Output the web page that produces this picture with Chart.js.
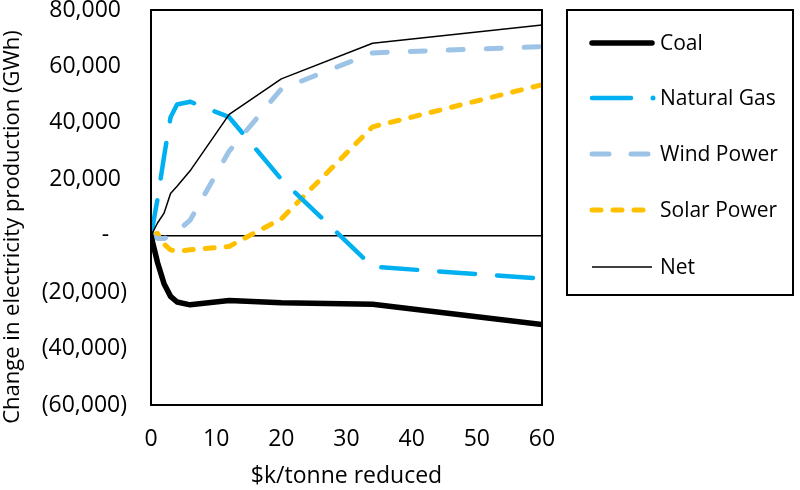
<!DOCTYPE html>
<html>
<head>
<meta charset="utf-8">
<script src="https://cdn.jsdelivr.net/npm/chart.js@4"></script>
<style>
  html, body { margin: 0; padding: 0; background: #fff; }
  #wrap { width: 800px; height: 490px; position: relative; }
</style>
</head>
<body>
<div id="wrap"><canvas id="c"></canvas></div>
<script>
// ---- data ----
const xValues = [0, 1, 2, 3, 4, 6, 12, 20, 34, 60];
const coal    = [0, -9500, -17000, -21500, -23500, -24500, -23000, -23800, -24300, -31500];
const natGas  = [0, 13000, 28000, 42000, 46500, 47500, 42000, 20000, -11000, -15200];
const wind    = [0, -1000, -1000, 0, 1500, 5500, 30000, 52000, 64800, 67000];
const solar   = [0, 800, -3000, -5000, -5500, -5000, -3800, 6000, 38600, 53500];
const net     = [0, 4500, 8000, 15000, 17500, 23000, 43000, 55600, 68200, 74700];
const seriesNames = ['Coal', 'Natural Gas', 'Wind Power', 'Solar Power', 'Net'];
const yTickValues = [80000, 60000, 40000, 20000, 0, -20000, -40000, -60000];
const xTickValues = [0, 10, 20, 30, 40, 50, 60];
const xTitle = '$k/tonne reduced';
const yTitle = 'Change in electricity production (GWh)';

const FONT = "'Open Sans', 'Noto Sans', sans-serif";
const pts = arr => arr.map((v, i) => ({ x: xValues[i], y: v }));

const styles = [
  { color: '#000000', width: 5.5, dash: [],       cap: 'round' },
  { color: '#00B0F0', width: 4.5, dash: [36, 22], cap: 'round' },
  { color: '#9DC3E6', width: 5,   dash: [15, 23], cap: 'round' },
  { color: '#FFC000', width: 5,   dash: [9, 12],  cap: 'round' },
  { color: '#000000', width: 1.5, dash: [],       cap: 'butt'  }
];
const seriesData = [coal, natGas, wind, solar, net];

const datasets = seriesData.map((d, i) => ({
  label: seriesNames[i],
  data: pts(d),
  borderColor: styles[i].color,
  borderWidth: styles[i].width,
  borderDash: styles[i].dash,
  borderCapStyle: styles[i].cap,
  borderJoinStyle: 'round',
  pointRadius: 0,
  pointHoverRadius: 0,
  fill: false,
  tension: 0
}));
datasets[4].order = 0; datasets[0].order = 1; datasets[1].order = 2; datasets[2].order = 3; datasets[3].order = 4;

function acct(v) {
  if (v === 0) return '-   ';
  const s = Math.abs(v).toLocaleString('en-US');
  return v < 0 ? '(' + s + ')' : s + ' ';
}

const decor = {
  id: 'decor',
  afterDraw(chart) {
    const { ctx, chartArea: a } = chart;
    ctx.save();
    ctx.strokeStyle = '#000';
    ctx.lineWidth = 2;
    ctx.strokeRect(a.left, a.top, a.right - a.left, a.bottom - a.top);

    // y title
    ctx.fillStyle = '#000';
    ctx.font = '22px ' + FONT;
    ctx.textAlign = 'center';
    ctx.textBaseline = 'middle';
    ctx.translate(13, 227);
    ctx.rotate(-Math.PI / 2);
    ctx.fillText(yTitle, 0, 0);
    ctx.setTransform(1, 0, 0, 1, 0, 0);

    // legend box
    const lx = 567, ly = 10, lw = 226, lh = 285;
    ctx.lineWidth = 2;
    ctx.strokeStyle = '#000';
    ctx.strokeRect(lx, ly, lw, lh);
    const rows = [43, 98, 154, 210, 267];
    ctx.textAlign = 'left';
    ctx.textBaseline = 'middle';
    ctx.font = '21px ' + FONT;
    seriesNames.forEach((name, i) => {
      const y = rows[i];
      const st = styles[i];
      ctx.strokeStyle = st.color;
      ctx.lineWidth = st.width;
      ctx.lineCap = st.cap;
      ctx.beginPath();
      if (i === 1) {
        ctx.setLineDash([]);
        ctx.moveTo(592, y); ctx.lineTo(631, y);
        ctx.stroke();
        ctx.beginPath();
        ctx.fillStyle = st.color;
        ctx.arc(653, y, 2.5, 0, Math.PI * 2);
        ctx.fill();
      } else {
        ctx.setLineDash(i === 2 ? [17, 22] : i === 3 ? [9, 12] : []);
        ctx.moveTo(592, y);
        ctx.lineTo(652, y);
        ctx.stroke();
      }
      ctx.setLineDash([]);
      ctx.fillStyle = '#000';
      ctx.fillText(name, 660, y + 1);
    });
    ctx.restore();
  }
};

new Chart(document.getElementById('c'), {
  type: 'line',
  data: { datasets },
  options: {
    responsive: true,
    maintainAspectRatio: false,
    animation: false,
    layout: { padding: { left: 0, top: 10, right: 258, bottom: 0 } },
    plugins: { legend: { display: false }, tooltip: { enabled: false } },
    scales: {
      x: {
        type: 'linear',
        min: 0, max: 60,
        afterBuildTicks: s => { s.ticks = xTickValues.map(v => ({ value: v })); },
        afterFit: s => { s.height = 85; s.paddingLeft = 0; s.paddingRight = 0; },
        grid: { display: false, drawTicks: false },
        border: { display: true, color: '#000', width: 2 },
        ticks: { color: '#000', font: { family: FONT, size: 23 }, padding: 21, maxRotation: 0 },
        title: { display: true, text: xTitle, color: '#000', font: { family: FONT, size: 23 }, padding: { top: 0, bottom: 0 } }
      },
      y: {
        type: 'linear',
        min: -60000, max: 80000,
        afterBuildTicks: s => { s.ticks = yTickValues.slice().reverse().map(v => ({ value: v })); },
        afterFit: s => { s.width = 151; s.paddingTop = 0; s.paddingBottom = 0; },
        grid: {
          drawTicks: false,
          color: c => (c.tick && c.tick.value === 0) ? '#000' : 'rgba(0,0,0,0)',
          lineWidth: 1.5
        },
        border: { display: true, color: '#000', width: 2 },
        ticks: { color: '#000', font: { family: FONT, size: 23 }, padding: 24, callback: v => acct(v) }
      }
    }
  },
  plugins: [decor]
});
</script>
</body>
</html>
